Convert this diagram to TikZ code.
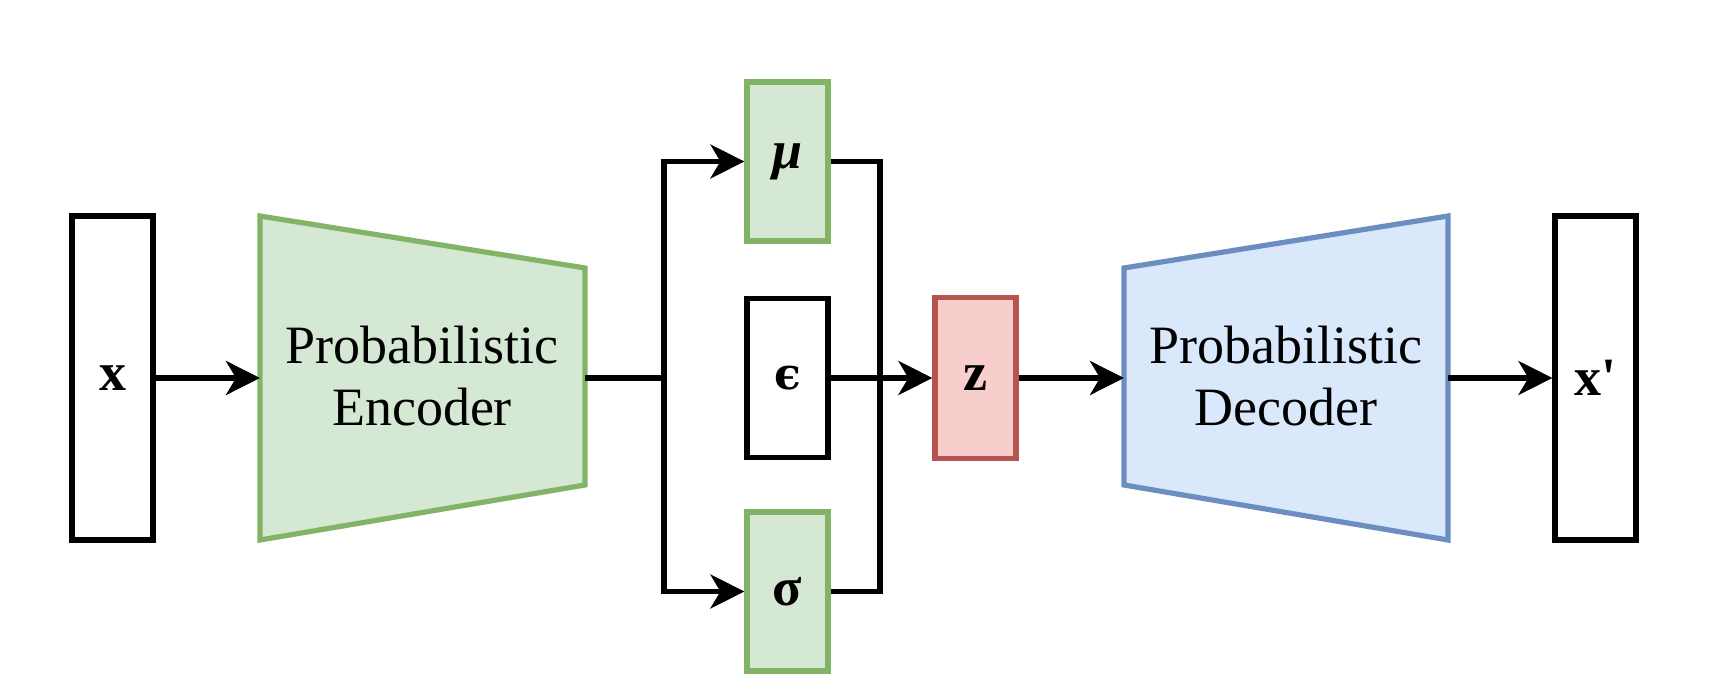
\documentclass[tikz,border=0pt]{standalone}
\usepackage{fontspec}
\setmainfont{Liberation Serif}
\newfontfamily\greekfont{DejaVu Serif}
\usepackage{textcomp}
\usetikzlibrary{arrows.meta}
\definecolor{encfill}{HTML}{D5E8D4}
\definecolor{encline}{HTML}{82B366}
\definecolor{decfill}{HTML}{DAE8FC}
\definecolor{decline}{HTML}{6C8EBF}
\definecolor{latfill}{HTML}{F8CECC}
\definecolor{latline}{HTML}{B85450}
\tikzset{
  vecbox/.style={draw, line width=2.6pt, inner sep=0pt, minimum width=40.5pt,
    minimum height=162pt, font=\fontsize{27}{31}\selectfont\bfseries},
  parbox/.style={vecbox, draw=encline, fill=encfill, minimum height=79.5pt},
  link/.style={line width=2.6pt, -{Stealth[length=17pt, width=17pt, inset=5pt]}},
  wire/.style={line width=2.6pt},
  coder/.style={line width=2.6pt, line join=miter},
  codertext/.style={align=center, font=\fontsize{27}{31}\selectfont}
}
\begin{document}
\begin{tikzpicture}[x=0.5pt, y=-0.5pt]
    \useasboundingbox (0,0) rectangle (1736,694);
    % Input and output vectors
    \node[vecbox] (xin) at (112.5,378) {x};
    \node[vecbox] (xout) at (1595.5,378) {x\textquotesingle};
    % Encoder
    \draw[coder, draw=encline, fill=encfill] (260,216) -- (585,268) -- (585,485) -- (260,540) -- cycle;
    \coordinate (encin) at (260,378);
    \coordinate (encout) at (585,378);
    \node[codertext] (enc) at (422,376) {Probabilistic\\Encoder};
    % Decoder
    \draw[coder, draw=decline, fill=decfill] (1124,268) -- (1448,216) -- (1448,540) -- (1124,485) -- cycle;
    \coordinate (decin) at (1124,378);
    \coordinate (decout) at (1448,378);
    \node[codertext] (dec) at (1286,376) {Probabilistic\\Decoder};
    % Latent parameters
    \node[parbox] (mu) at (787.5,161.5) {\textit{μ}};
    \node[vecbox, minimum height=79.5pt] (eps) at (787.5,378) {\greekfont\fontsize{22}{26}\selectfont ϵ};
    \node[parbox] (sigma) at (787.5,591.5) {σ};
    \node[vecbox, draw=latline, fill=latfill, minimum height=80.5pt] (z) at (975.5,378) {z};
    \coordinate (split) at (664,378);
    \coordinate (merge) at (880,378);
    % Connections
    \draw[link] (xin.east) -- (encin);
    \draw[wire] (encout) -- (split);
    \draw[link] (split) |- (mu.west);
    \draw[link] (split) |- (sigma.west);
    \draw[wire] (mu.east) -| (merge) |- (sigma.east);
    \draw[link] (eps.east) -- (z.west);
    \draw[link] (z.east) -- (decin);
    \draw[link] (decout) -- (xout.west);
\end{tikzpicture}
\end{document}
